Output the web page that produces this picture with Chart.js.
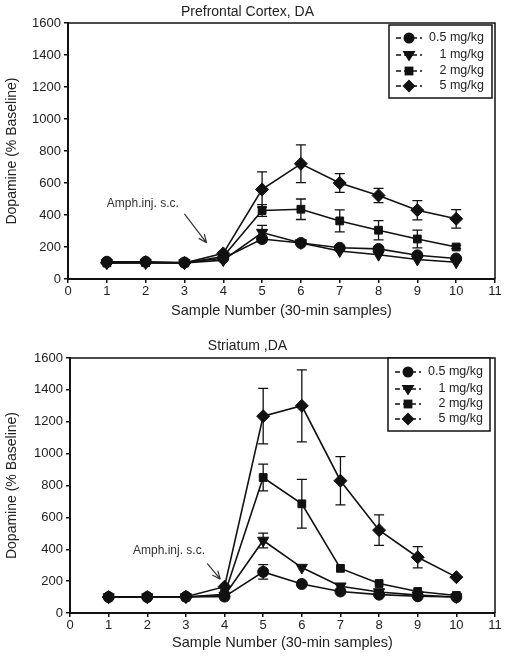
<!DOCTYPE html>
<html>
<head>
<meta charset="utf-8">
<script src="https://cdn.jsdelivr.net/npm/chart.js@4/dist/chart.umd.min.js"></script>
<style>
  html, body { margin: 0; padding: 0; background: #fff; }
  #wrap { position: relative; width: 509px; height: 658px; }
  canvas { position: absolute; left: 0; }
  #pfc { top: 0; }
  #str { top: 330px; }
</style>
</head>
<body>
<div id="wrap">
  <canvas id="pfc" width="509" height="330"></canvas>
  <canvas id="str" width="509" height="328"></canvas>
</div>
<script>
// ===== Datos =====
const sampleNumbers = [1, 2, 3, 4, 5, 6, 7, 8, 9, 10];
const doseLabels = ['0.5 mg/kg', '1 mg/kg', '2 mg/kg', '5 mg/kg'];
const xTicks = [0, 1, 2, 3, 4, 5, 6, 7, 8, 9, 10, 11];
const yTicks = [0, 200, 400, 600, 800, 1000, 1200, 1400, 1600];

// Prefrontal cortex (% baseline)
const pfcDose05 = [108, 108, 103, 130, 250, 225, 195, 188, 148, 128];
const pfcDose1  = [100, 100, 100, 118, 290, 225, 175, 152, 122, 105];
const pfcDose2  = [100, 102, 100, 140, 428, 436, 363, 305, 250, 200];
const pfcDose5  = [102, 105, 100, 160, 560, 720, 600, 522, 430, 376];
// error (SEM)
const pfcErr05 = [0, 0, 0, 0, 20, 10, 12, 12, 10, 8];
const pfcErr1  = [0, 0, 0, 0, 45, 0, 0, 0, 0, 0];
const pfcErr2  = [0, 0, 0, 0, 37, 64, 69, 60, 55, 10];
const pfcErr5  = [0, 0, 0, 0, 110, 118, 58, 45, 60, 58];

// Striatum (% baseline)
const strDose05 = [100, 100, 102, 103, 258, 182, 135, 115, 105, 100];
const strDose1  = [100, 100, 100, 110, 455, 285, 168, 132, 112, 100];
const strDose2  = [100, 100, 100, 118, 850, 685, 280, 185, 135, 110];
const strDose5  = [100, 100, 102, 165, 1235, 1300, 830, 520, 350, 225];
const strErr05 = [0, 0, 0, 0, 45, 0, 0, 0, 0, 0];
const strErr1  = [0, 0, 0, 0, 46, 0, 0, 0, 0, 0];
const strErr2  = [0, 0, 0, 0, 84, 153, 0, 0, 0, 0];
const strErr5  = [0, 0, 0, 0, 174, 226, 151, 96, 67, 0];

const INK = '#111';
const FONT = "'Liberation Sans', Arial, sans-serif";
const markerStyles = [
    { style: 'circle', radius: 5.5, rotation: 0 },
    { style: 'triangle', radius: 6.5, rotation: 180 },
    { style: 'rect', radius: 5.5, rotation: 0 },
    { style: 'rectRot', radius: 6.5, rotation: 0 }
];

// Marcador simple para la leyenda
function drawMarker(ctx, style, x, y, r) {
    ctx.beginPath();
    if (style === 'circle') {
        ctx.arc(x, y, r, 0, Math.PI * 2);
    } else if (style === 'triangle') {
        ctx.moveTo(x - r, y - r * 0.6);
        ctx.lineTo(x + r, y - r * 0.6);
        ctx.lineTo(x, y + r);
    } else if (style === 'rect') {
        ctx.rect(x - r * 0.8, y - r * 0.8, r * 1.6, r * 1.6);
    } else {
        ctx.moveTo(x, y - r);
        ctx.lineTo(x + r, y);
        ctx.lineTo(x, y + r);
        ctx.lineTo(x - r, y);
    }
    ctx.closePath();
    ctx.fill();
}

// Barras de error, marco, leyenda y flecha
const extrasPlugin = {
    id: 'extras',
    afterDatasetsDraw(chart, args, opts) {
        const ctx = chart.ctx;
        const xs = chart.scales.x, ys = chart.scales.y;
        ctx.save();
        ctx.strokeStyle = INK;
        ctx.lineWidth = 1.3;
        chart.data.datasets.forEach((ds) => {
            ds.data.forEach((p, i) => {
                const e = ds.errors[i];
                if (!e) return;
                const px = xs.getPixelForValue(p.x);
                const top = ys.getPixelForValue(p.y + e);
                const bot = ys.getPixelForValue(p.y - e);
                ctx.beginPath();
                ctx.moveTo(px, top); ctx.lineTo(px, bot);
                ctx.moveTo(px - 5, top); ctx.lineTo(px + 5, top);
                ctx.moveTo(px - 5, bot); ctx.lineTo(px + 5, bot);
                ctx.stroke();
            });
        });
        ctx.restore();
    },
    afterDraw(chart, args, opts) {
        const ctx = chart.ctx;
        const a = chart.chartArea;
        const xs = chart.scales.x, ys = chart.scales.y;
        ctx.save();
        // marco superior y derecho
        ctx.strokeStyle = INK;
        ctx.lineWidth = 1.5;
        ctx.beginPath();
        ctx.moveTo(a.left, a.top);
        ctx.lineTo(a.right, a.top);
        ctx.lineTo(a.right, a.bottom);
        ctx.stroke();

        // leyenda
        const lg = opts.legend;
        ctx.fillStyle = '#fff';
        ctx.fillRect(lg.left, lg.top, lg.width, lg.height);
        ctx.lineWidth = 1.5;
        ctx.strokeRect(lg.left, lg.top, lg.width, lg.height);
        ctx.font = '12.5px ' + FONT;
        ctx.textAlign = 'right';
        ctx.textBaseline = 'middle';
        chart.data.datasets.forEach((ds, i) => {
            const y = lg.rows[i];
            ctx.strokeStyle = INK;
            ctx.lineWidth = 1.5;
            ctx.setLineDash([5, 3]);
            ctx.beginPath();
            ctx.moveTo(lg.markerX - 13, y); ctx.lineTo(lg.markerX + 13, y);
            ctx.stroke();
            ctx.setLineDash([]);
            ctx.fillStyle = INK;
            drawMarker(ctx, markerStyles[i].style, lg.markerX, y, markerStyles[i].radius);
            ctx.fillStyle = '#222';
            ctx.fillText(ds.label, lg.textRight, y);
        });

        // anotación de inyección
        const an = opts.note;
        ctx.fillStyle = '#333';
        ctx.font = '12px ' + FONT;
        ctx.textAlign = 'left';
        ctx.fillText(an.text, xs.getPixelForValue(an.textX), ys.getPixelForValue(an.textY));
        const x1 = xs.getPixelForValue(an.from[0]), y1 = ys.getPixelForValue(an.from[1]);
        const x2 = xs.getPixelForValue(an.to[0]), y2 = ys.getPixelForValue(an.to[1]);
        const ang = Math.atan2(y2 - y1, x2 - x1);
        ctx.strokeStyle = '#333';
        ctx.lineWidth = 1.2;
        ctx.beginPath();
        ctx.moveTo(x1, y1); ctx.lineTo(x2, y2);
        ctx.moveTo(x2, y2); ctx.lineTo(x2 - 9 * Math.cos(ang - 0.4), y2 - 9 * Math.sin(ang - 0.4));
        ctx.moveTo(x2, y2); ctx.lineTo(x2 - 9 * Math.cos(ang + 0.4), y2 - 9 * Math.sin(ang + 0.4));
        ctx.stroke();
        ctx.restore();
    }
};

function buildDatasets(series, errors) {
    return series.map((vals, i) => ({
        label: doseLabels[i],
        data: sampleNumbers.map((s, j) => ({ x: s, y: vals[j] })),
        errors: errors[i],
        borderColor: INK,
        backgroundColor: INK,
        borderWidth: 1.6,
        pointStyle: markerStyles[i].style,
        pointRadius: markerStyles[i].radius,
        pointRotation: markerStyles[i].rotation,
        pointBorderWidth: 1,
        tension: 0,
        fill: false
    }));
}

function createChart(canvasId, cfg) {
    const ctx = document.getElementById(canvasId);
    return new Chart(ctx, {
        type: 'line',
        data: { datasets: buildDatasets(cfg.series, cfg.errors) },
        options: {
            responsive: false,
            animation: false,
            devicePixelRatio: 1,
            layout: { padding: { left: 0, right: 14, top: 0, bottom: 0 } },
            plugins: {
                legend: { display: false },
                tooltip: { enabled: false },
                title: {
                    display: true,
                    text: cfg.title,
                    color: '#222',
                    font: { family: FONT, size: 14, weight: 'normal' },
                    padding: cfg.titlePadding
                },
                extras: { legend: cfg.legend, note: cfg.note }
            },
            scales: {
                x: {
                    type: 'linear',
                    min: 0, max: 11,
                    afterBuildTicks: (s) => { s.ticks = xTicks.map(v => ({ value: v })); },
                    afterFit: (s) => { s.height = cfg.xAxisHeight; },
                    ticks: { color: '#222', font: { family: FONT, size: 13 }, padding: 1,
                             callback: (v) => String(v) },
                    grid: { drawOnChartArea: false, drawTicks: true, tickLength: 4, color: INK, lineWidth: 1.5 },
                    border: { color: INK, width: 2 },
                    title: {
                        display: true,
                        text: 'Sample Number (30-min samples)',
                        color: '#222',
                        font: { family: FONT, size: 14.5 },
                        padding: { top: 0, bottom: cfg.xTitleBottom }
                    }
                },
                y: {
                    min: 0, max: 1600,
                    afterBuildTicks: (s) => { s.ticks = yTicks.map(v => ({ value: v })); },
                    afterFit: (s) => { s.width = cfg.yAxisWidth; },
                    ticks: { color: '#222', font: { family: FONT, size: 13 }, padding: 3,
                             callback: (v) => String(v) },
                    grid: { drawOnChartArea: false, drawTicks: true, tickLength: 4, color: INK, lineWidth: 1.5 },
                    border: { color: INK, width: 2 },
                    title: {
                        display: true,
                        text: 'Dopamine (% Baseline)',
                        color: '#222',
                        font: { family: FONT, size: 14 },
                        padding: { top: 4, bottom: 0 }
                    }
                }
            }
        },
        plugins: [extrasPlugin]
    });
}

createChart('pfc', {
    title: 'Prefrontal Cortex, DA',
    series: [pfcDose05, pfcDose1, pfcDose2, pfcDose5],
    errors: [pfcErr05, pfcErr1, pfcErr2, pfcErr5],
    titlePadding: { top: 3.6, bottom: 2.6 },
    xAxisHeight: 51,
    xTitleBottom: 10,
    yAxisWidth: 68,
    legend: { left: 389, top: 25, width: 103, height: 73, markerX: 409, textRight: 484, rows: [38, 55, 71, 86] },
    note: { text: 'Amph.inj. s.c.', textX: 1.0, textY: 469, from: [3.0, 407], to: [3.57, 226] }
});

createChart('str', {
    title: 'Striatum ,DA',
    series: [strDose05, strDose1, strDose2, strDose5],
    errors: [strErr05, strErr1, strErr2, strErr5],
    titlePadding: { top: 7.6, bottom: 3.6 },
    xAxisHeight: 45,
    xTitleBottom: 6,
    yAxisWidth: 70,
    legend: { left: 388, top: 28, width: 102, height: 73, markerX: 408, textRight: 483, rows: [42, 59, 74, 89] },
    note: { text: 'Amph.inj. s.c.', textX: 1.63, textY: 388, from: [3.55, 312], to: [3.89, 212] }
});
</script>
</body>
</html>
